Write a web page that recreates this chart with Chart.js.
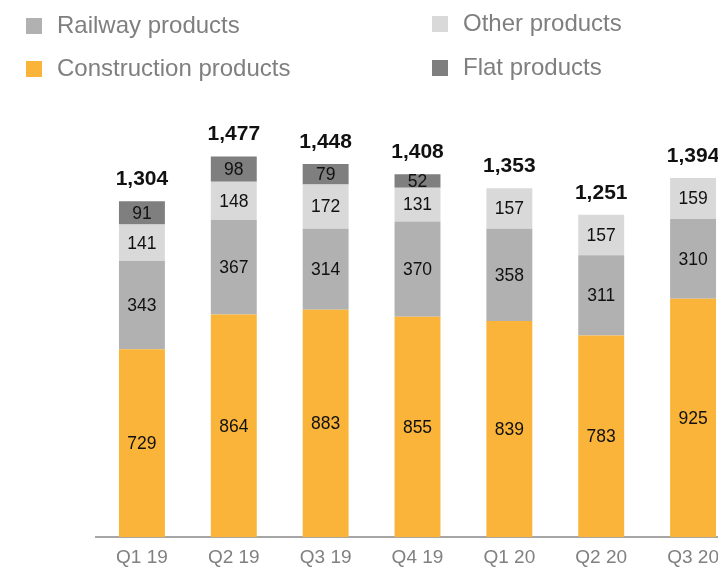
<!DOCTYPE html>
<html>
<head>
<meta charset="utf-8">
<script src="https://cdn.jsdelivr.net/npm/chart.js@4/dist/chart.umd.min.js"></script>
<style>
  html, body { margin: 0; padding: 0; background: #fff; overflow: hidden; }
  #wrap { width: 718px; height: 568px; overflow: hidden; }
</style>
</head>
<body>
<div id="wrap"><canvas id="chart" width="740" height="570"></canvas></div>
<script>
// Quarterly shipments by product group
const quarters = ['Q1 19', 'Q2 19', 'Q3 19', 'Q4 19', 'Q1 20', 'Q2 20', 'Q3 20'];
const construction = [729, 864, 883, 855, 839, 783, 925];
const railway = [343, 367, 314, 370, 358, 311, 310];
const other = [141, 148, 172, 131, 157, 157, 159];
const flat = [91, 98, 79, 52, null, null, null];
const totals = [1304, 1477, 1448, 1408, 1353, 1251, 1394];

const FONT = 'Arial, "Liberation Sans", sans-serif';

const colors = {
    construction: '#FAB43A',
    railway: '#B1B1B1',
    other: '#D9D9D9',
    flat: '#7F7F7F'
};

// legend entries laid out in two columns
const legendItems = [
    { label: 'Railway products', color: colors.railway, x: 26, y: 26 },
    { label: 'Construction products', color: colors.construction, x: 26, y: 69 },
    { label: 'Other products', color: colors.other, x: 432, y: 24 },
    { label: 'Flat products', color: colors.flat, x: 432, y: 68 }
];

const legendPlugin = {
    id: 'sideLegend',
    afterDraw(chart) {
        const ctx = chart.ctx;
        ctx.save();
        ctx.font = '24px ' + FONT;
        ctx.textBaseline = 'middle';
        ctx.textAlign = 'left';
        legendItems.forEach(item => {
            ctx.fillStyle = item.color;
            ctx.fillRect(item.x, item.y - 8, 16, 16);
            ctx.fillStyle = '#7F7F7F';
            ctx.fillText(item.label, item.x + 31, item.y);
        });
        ctx.restore();
    }
};

const valueLabels = {
    id: 'valueLabels',
    afterDatasetsDraw(chart) {
        const ctx = chart.ctx;
        ctx.save();
        ctx.textAlign = 'center';
        ctx.textBaseline = 'middle';
        ctx.fillStyle = '#111';
        ctx.font = '17.5px ' + FONT;
        chart.data.datasets.forEach((ds, i) => {
            const meta = chart.getDatasetMeta(i);
            meta.data.forEach((bar, j) => {
                const v = ds.data[j];
                if (v == null) return;
                ctx.fillText(String(v), bar.x, (bar.y + bar.base) / 2 + 1);
            });
        });
        // totals above each stack
        ctx.font = 'bold 21px ' + FONT;
        const yScale = chart.scales.y;
        const xScale = chart.scales.x;
        totals.forEach((t, j) => {
            const top = yScale.getPixelForValue(t);
            ctx.fillText(t.toLocaleString('en-US'), xScale.getPixelForValue(j), top - 22);
        });
        ctx.restore();
    }
};

new Chart(document.getElementById('chart'), {
    type: 'bar',
    data: {
        labels: quarters,
        datasets: [
            { label: 'Construction products', data: construction, backgroundColor: colors.construction },
            { label: 'Railway products', data: railway, backgroundColor: colors.railway },
            { label: 'Other products', data: other, backgroundColor: colors.other },
            { label: 'Flat products', data: flat, backgroundColor: colors.flat }
        ]
    },
    options: {
        responsive: false,
        animation: false,
        devicePixelRatio: 1,
        layout: { padding: { left: 96, right: 1, top: 112, bottom: 0 } },
        datasets: {
            bar: { categoryPercentage: 1, barPercentage: 0.5, borderWidth: 0 }
        },
        plugins: {
            legend: { display: false },
            tooltip: { enabled: false }
        },
        scales: {
            x: {
                stacked: true,
                grid: { display: false },
                border: { display: true, color: '#A6A6A6', width: 2 },
                ticks: { color: '#808080', font: { family: FONT, size: 19 }, padding: 1 }
            },
            y: {
                stacked: true,
                display: false,
                min: 0,
                max: 1650
            }
        }
    },
    plugins: [legendPlugin, valueLabels]
});
</script>
</body>
</html>
